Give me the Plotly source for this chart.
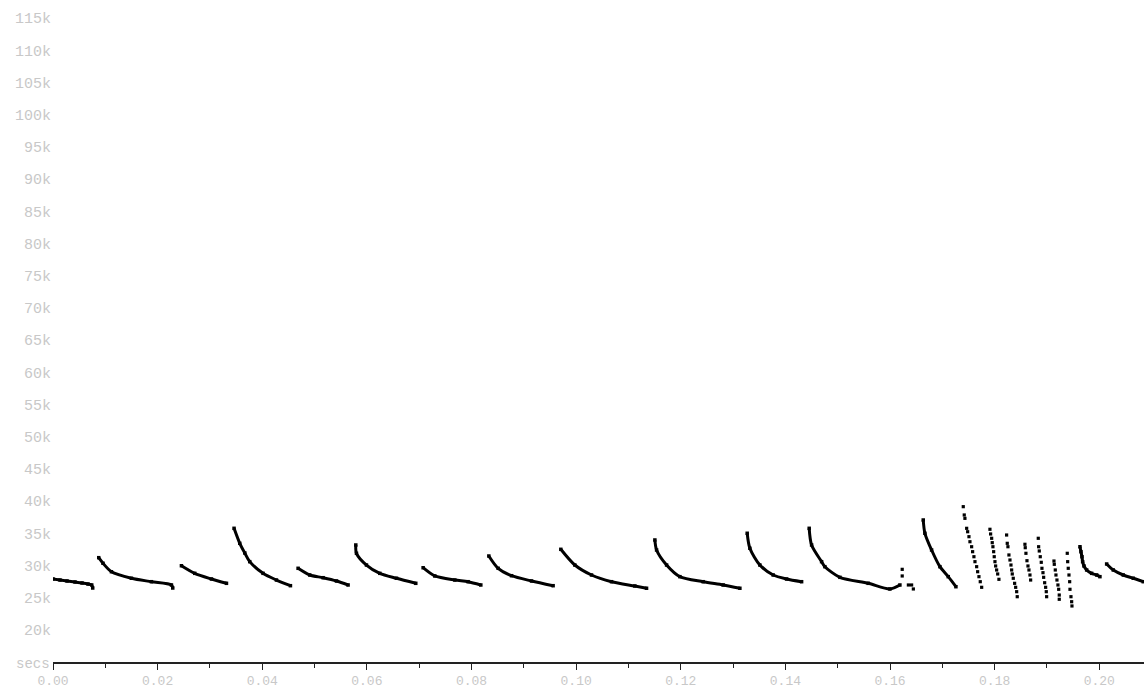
import plotly.graph_objects as go

# ---- data (time in seconds, frequency in Hz) ----
# dense (continuous-looking) calls
t01 = [0.0000, 0.00134, 0.00268, 0.00421, 0.00555, 0.00669, 0.00740, 0.00759]
f01 = [27920, 27760, 27610, 27450, 27300, 27140, 26990, 26520]
t02 = [0.00874, 0.00956, 0.01117, 0.01499, 0.01881, 0.02264, 0.02289]
f02 = [31230, 30360, 29050, 28030, 27500, 26990, 26520]
t03 = [0.02455, 0.02709, 0.03029, 0.03316]
f03 = [29980, 28800, 27920, 27250]
t04 = [0.03461, 0.03570, 0.03666, 0.03761, 0.04015, 0.04271, 0.04539]
f04 = [35790, 33460, 31960, 30610, 28800, 27760, 26880]
t05 = [0.04685, 0.04908, 0.05163, 0.05419, 0.05641]
f05 = [29580, 28540, 28120, 27610, 26990]
t06 = [0.05788, 0.05801, 0.05992, 0.06247, 0.06566, 0.06935]
f06 = [33200, 31910, 30090, 28800, 28030, 27250]
t07 = [0.07075, 0.07298, 0.07681, 0.07935, 0.08178]
f07 = [29670, 28390, 27760, 27500, 26990]
t08 = [0.08331, 0.08509, 0.08765, 0.09147, 0.09560]
f08 = [31490, 29580, 28430, 27610, 26880]
t09 = [0.09707, 0.09975, 0.10294, 0.10677, 0.11122, 0.11346]
f09 = [32530, 30090, 28540, 27500, 26830, 26480]
t10 = [0.11505, 0.11538, 0.11729, 0.11983, 0.12428, 0.12811, 0.13130]
f10 = [33980, 32420, 30090, 28280, 27500, 26990, 26480]
t11 = [0.13270, 0.13321, 0.13512, 0.13767, 0.14023, 0.14310]
f11 = [35020, 32690, 30090, 28540, 27920, 27500]
t12 = [0.14455, 0.14501, 0.14692, 0.14755, 0.15042, 0.15583, 0.15998, 0.16189]
f12 = [35790, 33200, 30610, 29830, 28180, 27250, 26370, 26990]
t13 = [0.16635, 0.16667, 0.16795, 0.16954, 0.17113, 0.17260]
f13 = [37080, 35020, 32420, 29830, 28280, 26720]
t21 = [0.19631, 0.19650, 0.19669, 0.19682, 0.19708, 0.19759, 0.19854, 0.19950, 0.20013]
f21 = [32930, 32160, 31380, 30610, 29940, 29320, 28800, 28540, 28280]
t22 = [0.20141, 0.20268, 0.20459, 0.20650, 0.20841]
f22 = [30250, 29320, 28540, 28030, 27500]

# isolated dots after call 12
t12b = [0.16233, 0.16233, 0.16351, 0.16413, 0.16446]
f12b = [29420, 28390, 26990, 26990, 26370]

# dotted (sparse) calls
t14 = [0.17400, 0.17419, 0.17432, 0.17465, 0.17484, 0.17509, 0.17528, 0.17560,
       0.17579, 0.17604, 0.17624, 0.17656, 0.17675, 0.17700, 0.17725, 0.17752]
f14 = [39150, 37860, 37340, 35790, 35260, 34490, 33710, 32930,
       32160, 31380, 30610, 29830, 29050, 28280, 27500, 26630]
t15 = [0.17910, 0.17923, 0.17943, 0.17954, 0.17967, 0.17981, 0.17992, 0.18006,
       0.18019, 0.18038, 0.18058, 0.18082]
f15 = [35640, 34910, 34240, 33560, 32930, 32160, 31380, 30610,
       29940, 29320, 28700, 27870]
t16 = [0.18229, 0.18241, 0.18254, 0.18273, 0.18293, 0.18312, 0.18325, 0.18337,
       0.18356, 0.18382, 0.18402, 0.18421, 0.18432]
f16 = [34750, 33460, 32930, 31650, 30870, 30090, 29320, 28700,
       28030, 27250, 26630, 25950, 25170]
t17 = [0.18579, 0.18585, 0.18598, 0.18618, 0.18637, 0.18656, 0.18675, 0.18688]
f17 = [33310, 32780, 31910, 30760, 29940, 29320, 28540, 27760]
t18 = [0.18834, 0.18841, 0.18853, 0.18872, 0.18891, 0.18904, 0.18924, 0.18937,
       0.18956, 0.18975, 0.18987, 0.18994]
f18 = [34240, 32930, 32270, 31380, 30510, 29580, 28900, 28180,
       27340, 26630, 25950, 25170]
t19 = [0.19134, 0.19140, 0.19159, 0.19172, 0.19191, 0.19210, 0.19224, 0.19235, 0.19235]
f19 = [30710, 30200, 29320, 28540, 27760, 26990, 26320, 25430, 24770]
t20 = [0.19388, 0.19396, 0.19407, 0.19421, 0.19434, 0.19440, 0.19459, 0.19472, 0.19478]
f20 = [31910, 30610, 29580, 28540, 27500, 26320, 25170, 24390, 23730]

dense_calls = [(t01, f01), (t02, f02), (t03, f03), (t04, f04), (t05, f05),
               (t06, f06), (t07, f07), (t08, f08), (t09, f09), (t10, f10),
               (t11, f11), (t12, f12), (t13, f13), (t21, f21), (t22, f22)]
dotted_calls = [(t12b, f12b), (t14, f14), (t15, f15), (t16, f16), (t17, f17),
                (t18, f18), (t19, f19), (t20, f20)]

y_ticks = [20000, 25000, 30000, 35000, 40000, 45000, 50000, 55000, 60000, 65000,
           70000, 75000, 80000, 85000, 90000, 95000, 100000, 105000, 110000, 115000]
y_tick_labels = ["20k", "25k", "30k", "35k", "40k", "45k", "50k", "55k", "60k", "65k",
                 "70k", "75k", "80k", "85k", "90k", "95k", "100k", "105k", "110k", "115k"]

fig = go.Figure()
for t, f in dense_calls:
    fig.add_trace(go.Scatter(
        x=t, y=f, mode="lines+markers",
        line=dict(color="black", width=3, shape="spline", smoothing=0.8),
        marker=dict(color="black", size=3.5, symbol="square"),
        showlegend=False, hoverinfo="x+y"))
for t, f in dotted_calls:
    fig.add_trace(go.Scatter(
        x=t, y=f, mode="markers",
        marker=dict(color="black", size=3.2, symbol="square"),
        showlegend=False, hoverinfo="x+y"))

gray = "#c8c8c8"
mono = "Liberation Mono, DejaVu Sans Mono, monospace"

fig.update_layout(
    width=1144, height=688,
    margin=dict(l=53, r=0, t=0, b=26),
    paper_bgcolor="white", plot_bgcolor="white",
    xaxis=dict(
        range=[0, 0.20855], showgrid=False, zeroline=False, automargin=False,
        showline=True, linecolor="#222", linewidth=1.5,
        ticks="outside", tickcolor="#222", ticklen=6, tickwidth=1.3,
        tick0=0, dtick=0.02, tickformat=".2f",
        minor=dict(dtick=0.01, tick0=0, ticks="outside", ticklen=4,
                   tickcolor="#222", tickwidth=1.3),
        tickfont=dict(family=mono, size=13, color=gray),
        ticklabelstandoff=0,
    ),
    yaxis=dict(
        range=[15030, 117830], showgrid=False, zeroline=False, showline=False,
        automargin=False,
        ticks="", tickvals=y_ticks, ticktext=y_tick_labels,
        ticklabelstandoff=1,
        tickfont=dict(family=mono, size=15, color=gray),
    ),
    annotations=[dict(
        text="secs", xref="paper", yref="paper", x=-0.001, y=-0.003,
        xanchor="right", yanchor="middle", showarrow=False,
        font=dict(family=mono, size=14, color=gray))],
)

fig.write_html(
    "out.html",
    config={"displayModeBar": False},
    post_script="document.body.style.margin='0';document.body.style.overflow='hidden';",
)
